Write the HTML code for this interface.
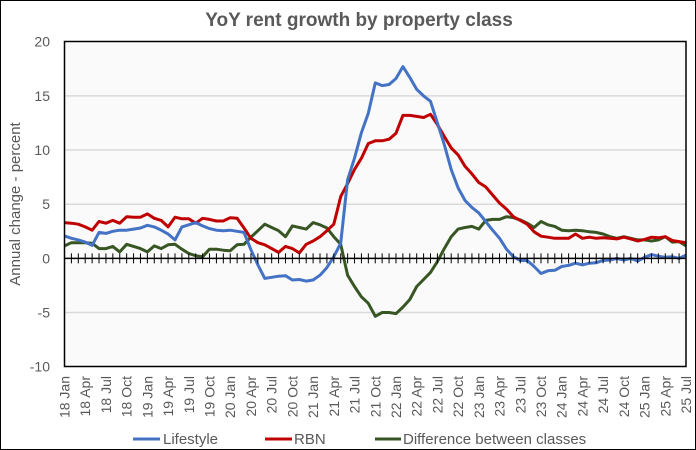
<!DOCTYPE html>
<html><head><meta charset="utf-8"><style>
body{margin:0;background:#fff;}
svg{display:block;font-family:"Liberation Sans",Arial,sans-serif;}
</style></head><body>
<svg id="chart" width="696" height="450" viewBox="0 0 696 450" xmlns="http://www.w3.org/2000/svg">
<rect x="0.5" y="0.5" width="695" height="449" fill="#fff" stroke="#000"/>
<text x="359" y="26" text-anchor="middle" font-size="19" font-weight="bold" fill="#595959">YoY rent growth by property class</text>
<rect x="64.5" y="41.5" width="621.5" height="325" fill="#fafafa" stroke="none"/>
<g id="grid"></g><g id="yticks"></g><g id="xlabels"></g><g id="series"></g>
<rect x="64.5" y="41.5" width="621.5" height="325" fill="none" stroke="#000" stroke-width="1.5"/>
<g id="zeroaxis"></g>
<text transform="translate(20,204) rotate(-90)" text-anchor="middle" font-size="15" fill="#595959">Annual change - percent</text>
<g>
<g><line x1="133" y1="439" x2="160" y2="439" stroke="#4472c4" stroke-width="3"/><text x="163" y="444" font-size="15" fill="#595959">Lifestyle</text></g>
<g><line x1="265" y1="439" x2="292" y2="439" stroke="#c00000" stroke-width="3"/><text x="294" y="444" font-size="15" fill="#595959">RBN</text></g>
<g><line x1="375" y1="439" x2="401" y2="439" stroke="#375623" stroke-width="3"/><text x="403" y="444" font-size="15" fill="#595959">Difference between classes</text></g>
</g>
</svg>
<script>
const lifestyle=[2.07,1.85,1.7,1.5,1.2,2.4,2.3,2.5,2.6,2.6,2.7,2.8,3.05,2.9,2.6,2.25,1.7,2.9,3.1,3.3,3.0,2.75,2.6,2.55,2.6,2.5,2.4,0.8,-0.6,-1.85,-1.75,-1.65,-1.6,-2.0,-1.95,-2.1,-2.0,-1.55,-0.85,0.15,1.4,7.25,9.25,11.6,13.4,16.2,15.95,16.05,16.6,17.7,16.7,15.6,15.0,14.5,12.5,10.5,8.2,6.5,5.35,4.7,4.2,3.4,2.6,1.85,0.85,0.15,-0.2,-0.2,-0.75,-1.4,-1.15,-1.1,-0.75,-0.65,-0.45,-0.6,-0.45,-0.4,-0.2,-0.15,0,-0.15,0,-0.25,0.1,0.35,0.2,0.1,0.15,0,0.3];
const rbn=[3.3,3.25,3.15,2.9,2.6,3.4,3.25,3.5,3.25,3.85,3.8,3.8,4.1,3.7,3.5,2.9,3.8,3.65,3.65,3.25,3.7,3.6,3.45,3.45,3.75,3.7,2.8,1.85,1.45,1.25,0.9,0.55,1.1,0.9,0.5,1.3,1.6,2.0,2.55,3.15,5.7,6.9,8.2,9.25,10.6,10.85,10.85,11.0,11.55,13.2,13.2,13.1,13.0,13.3,12.35,11.25,10.2,9.55,8.5,7.8,7.0,6.6,5.85,5.1,4.55,3.85,3.5,3.15,2.45,2.05,1.95,1.85,1.85,1.85,2.25,1.85,1.95,1.85,1.9,1.85,1.8,1.95,1.8,1.6,1.75,1.95,1.9,2.0,1.65,1.55,1.45];
const difference=[1.15,1.45,1.45,1.45,1.4,0.9,0.9,1.1,0.6,1.3,1.1,0.9,0.6,1.15,0.9,1.25,1.3,0.85,0.45,0.25,0.15,0.85,0.85,0.75,0.7,1.25,1.3,1.95,2.55,3.15,2.85,2.55,2.0,3.0,2.85,2.7,3.3,3.1,2.8,2.0,1.3,-1.55,-2.6,-3.55,-4.15,-5.35,-5.0,-5.0,-5.1,-4.5,-3.8,-2.6,-1.95,-1.3,-0.3,0.9,2.0,2.7,2.85,2.95,2.7,3.5,3.6,3.6,3.85,3.75,3.55,3.25,2.85,3.4,3.1,2.95,2.6,2.55,2.6,2.55,2.45,2.4,2.25,2.0,1.85,2.0,1.85,1.7,1.7,1.6,1.7,2.0,1.5,1.55,1.15];
const yTicks=[-10,-5,0,5,10,15,20];
const months=["Jan","Apr","Jul","Oct"];
const startYear=18, nPoints=91;

const NS="http://www.w3.org/2000/svg";
const X0=64.5,X1=686,Y0=366.7,Y1=41.7,yMin=-10,yMax=20;
function xs(i){return X0+(X1-X0)*i/(nPoints-1);}
function ys(v){return Y0-(v-yMin)/(yMax-yMin)*(Y0-Y1);}
function mk(tag,attrs,parent){const e=document.createElementNS(NS,tag);for(const k in attrs)e.setAttribute(k,attrs[k]);parent.appendChild(e);return e;}
const grid=document.getElementById('grid'),yt=document.getElementById('yticks');
yTicks.forEach(v=>{
  if(v!==0&&v!==yMin&&v!==yMax){const l=mk('line',{x1:X0,x2:X1,y1:ys(v),y2:ys(v),stroke:'#d9d9d9','stroke-width':1.5},grid);
  
  }
  const t=mk('text',{x:50,y:ys(v)+5,'text-anchor':'end','font-size':14,fill:'#595959'},yt);
  t.textContent=v;
  
  
});
const za=document.getElementById('zeroaxis');
const zl=mk('line',{x1:X0,x2:X1,y1:ys(0),y2:ys(0),stroke:'#000','stroke-width':1.5},za);


for(let i=0;i<nPoints;i++){const tk=mk('line',{x1:xs(i),x2:xs(i),y1:ys(0)-5,y2:ys(0)+5,stroke:'#000','stroke-width':1},za);

}
const xl=document.getElementById('xlabels');
for(let i=0;i<nPoints;i+=3){
  const yr=startYear+Math.floor(i/12),m=months[(i%12)/3];
  const t=mk('text',{transform:`translate(${xs(i)+5},376) rotate(-90)`,'text-anchor':'end','font-size':14,fill:'#595959'},xl);
  t.textContent=yr+' '+m;
  
  
}
const sg=document.getElementById('series');
[[difference,'#375623','difference-line'],[rbn,'#c00000','rbn-line'],[lifestyle,'#4472c4','lifestyle-line']].forEach(([d,c,n])=>{
  const p=mk('polyline',{points:d.map((v,i)=>xs(i).toFixed(1)+','+ys(v).toFixed(1)).join(' '),fill:'none',stroke:c,'stroke-width':3,'stroke-linejoin':'round'},sg);
  
  
});
</script>
</body></html>
